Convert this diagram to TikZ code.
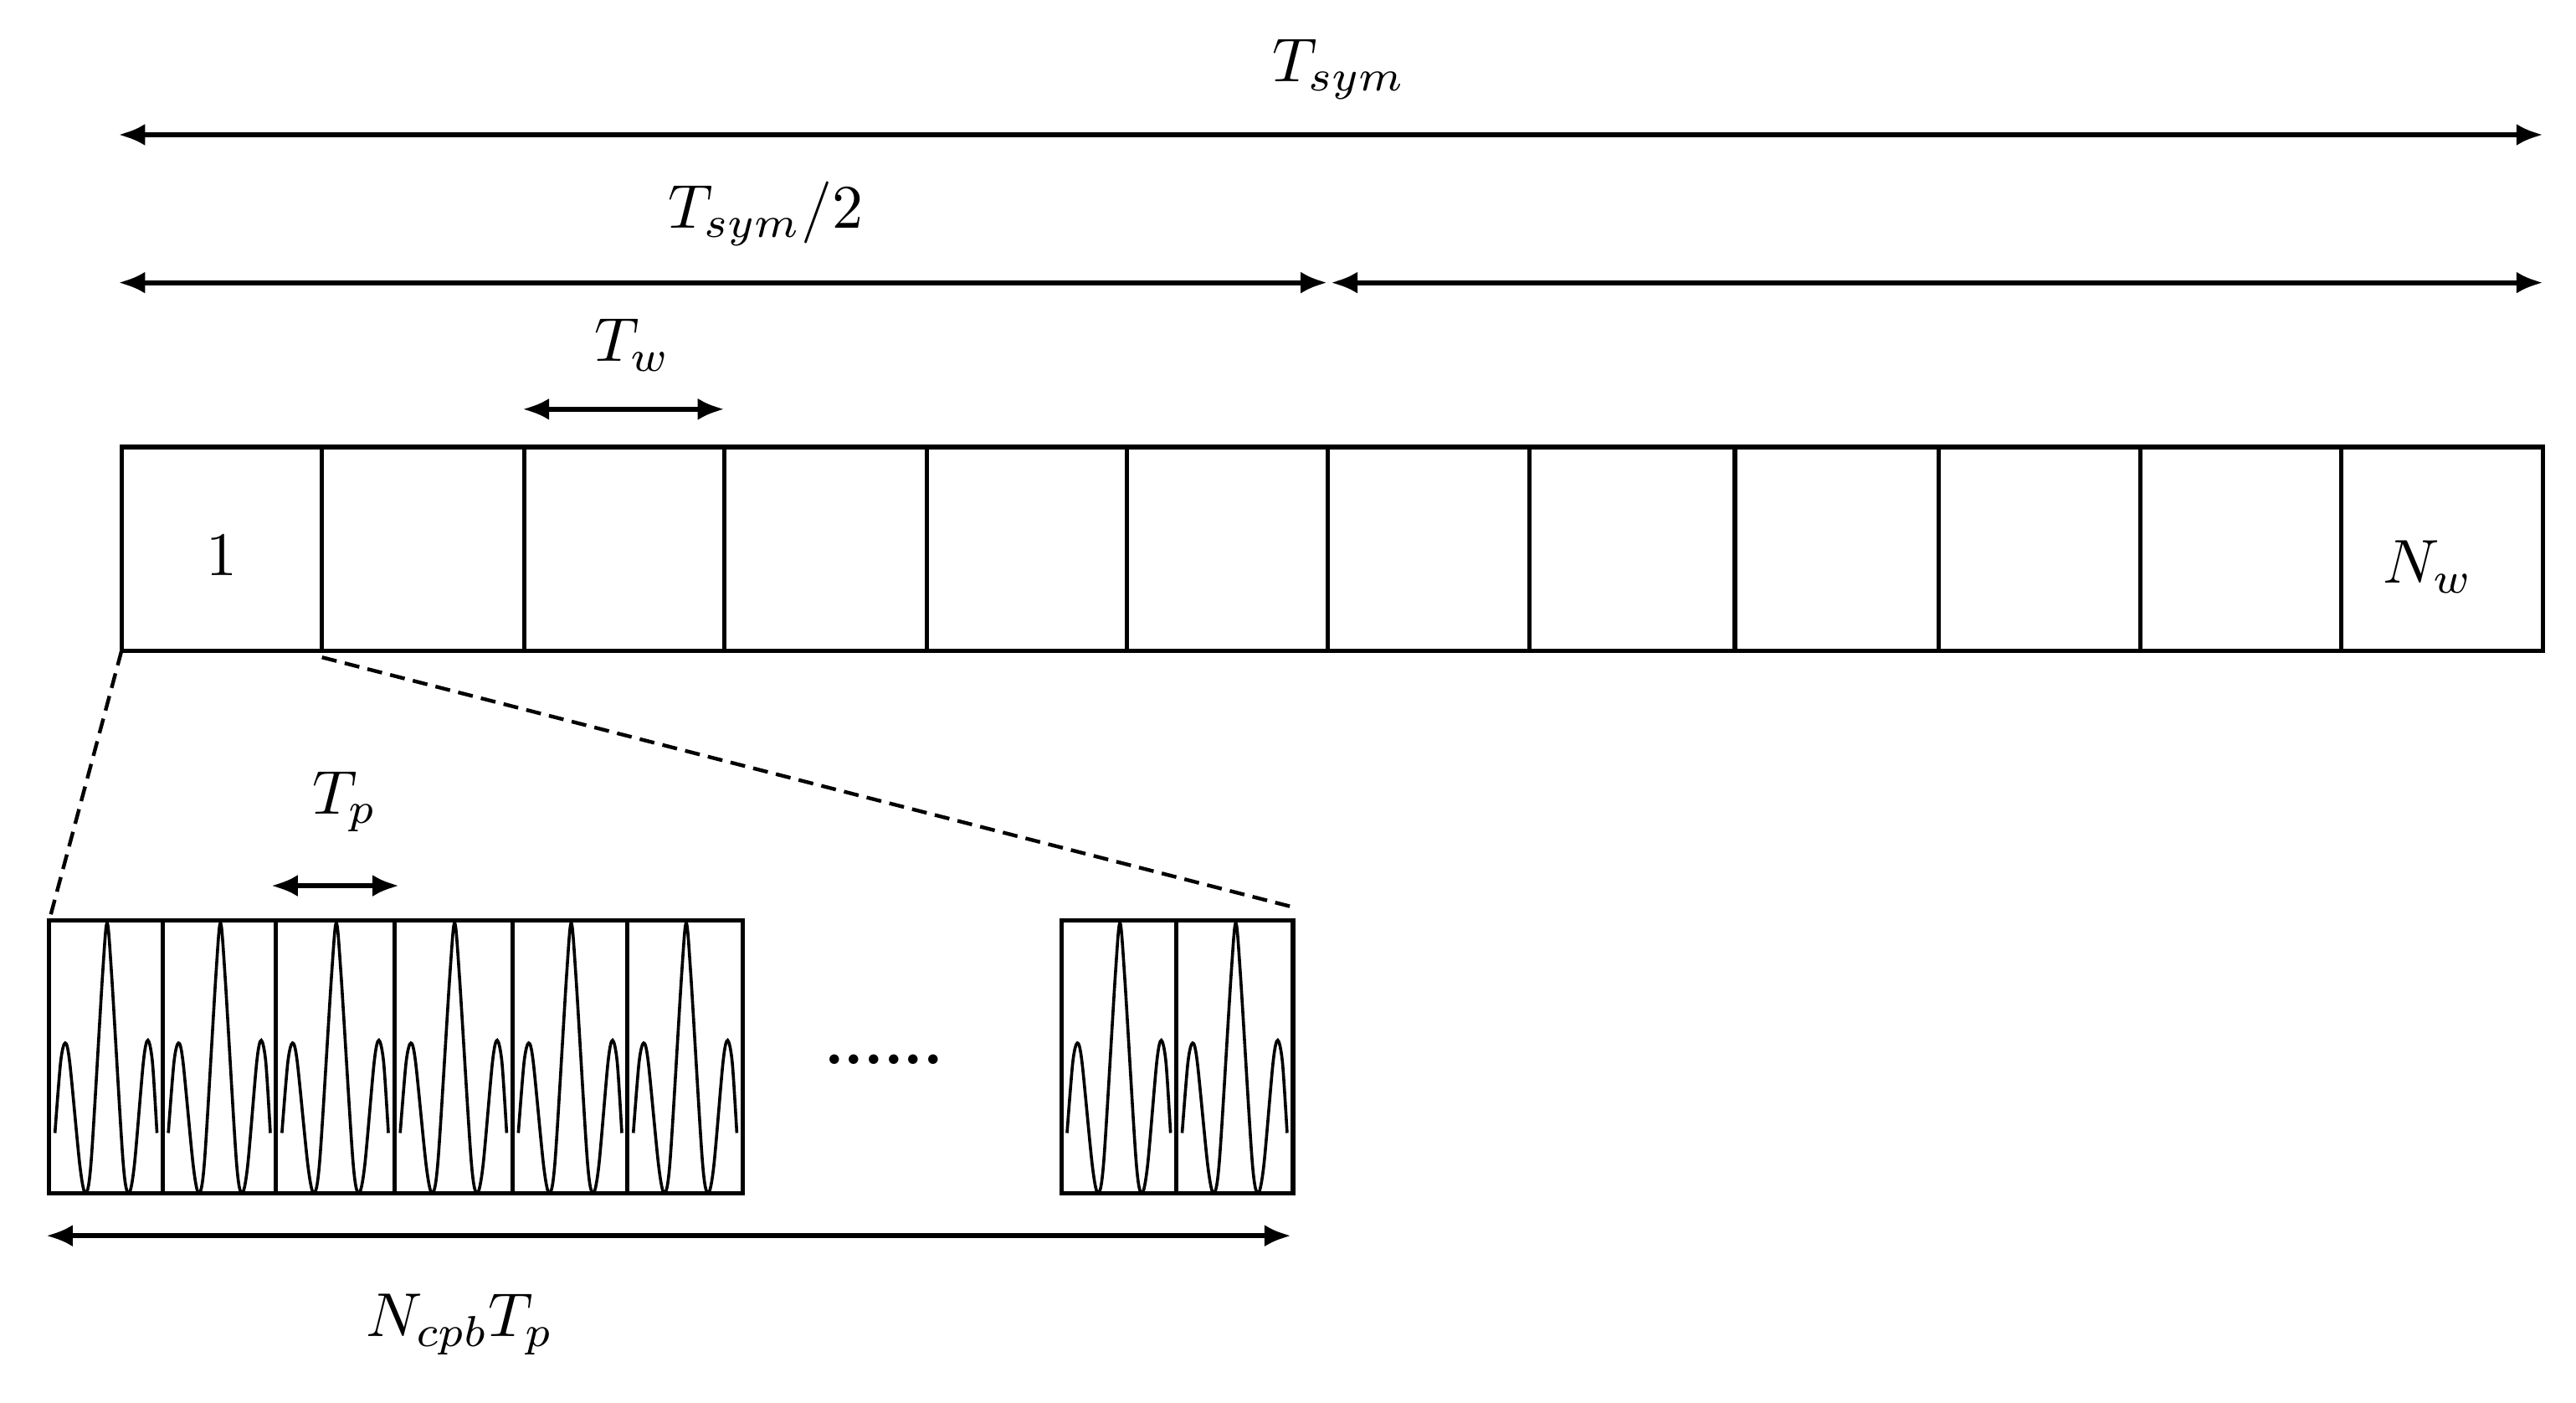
\documentclass[tikz,border=0pt]{standalone}
\usetikzlibrary{arrows.meta}
\begin{document}
\begin{tikzpicture}[x=0.9815pt,y=-0.9815pt,
  dim/.style={line width=3pt,{Latex[length=16pt,width=13pt]}-{Latex[length=16pt,width=13pt]}},
  lbl/.style={font=\normalsize,scale=3.7},
  cell/.style={line width=2.6pt},
  sbox/.style={line width=2.6pt},
  wave/.style={line width=1.8pt}]
\useasboundingbox (0,0) rectangle (1568,853.3);
% T_sym
\coordinate (a1) at (72,82); \coordinate (a2) at (1548,82);
\draw[dim] (a1) -- (a2);
\node[lbl] (tsym) at (815,42) {$T_{sym}$};
% T_sym/2
\coordinate (b1) at (72,172); \coordinate (b2) at (808,172);
\coordinate (b3) at (810,172); \coordinate (b4) at (1548,172);
\draw[dim] (b1) -- (b2);
\draw[dim] (b3) -- (b4);
\node[lbl] (thalf) at (466,130) {$T_{sym}/2$};
% T_w
\coordinate (c1) at (318,249); \coordinate (c2) at (441,249);
\draw[dim] (c1) -- (c2);
\node[lbl] (tw) at (385,210) {$T_w$};
% cells
\foreach \xa/\xb [count=\i] in {74/196,196/319,319/441,441/564,564/686,686/808,808/931,931/1056,1056/1180,1180/1303,1303/1425,1425/1548}
  \draw[cell] (\xa,272) rectangle (\xb,396);
\node[lbl] (one) at (135,338) {$1$};
\node[lbl] (nw) at (1478,345) {$N_w$};
% dashed zoom lines
\coordinate (d1) at (74,396); \coordinate (d2) at (30,560);
\coordinate (d3) at (196,400); \coordinate (d4) at (787,552);
\draw[line width=2.2pt,dash pattern=on 9pt off 5pt] (d1) -- (d2);
\draw[line width=2.2pt,dash pattern=on 9pt off 5pt] (d3) -- (d4);
% small boxes with waveform
\foreach \xa/\xb in {30/99,99/168,168/240,240/312,312/382,382/452,646/716,716/787}{
  \draw[sbox] (\xa,560) rectangle (\xb,726);
  \begin{scope}[shift={(\xa,560)},xscale=(\xb-\xa)/100,yscale=1.66]
  \draw[wave] plot[smooth,tension=0.5] coordinates {(5,78) (10,52) (14,45) (18,52) (27,90) (32,100) (37,88) (47,20) (51,1) (55,20) (65,88) (70,100) (75,90) (83,52) (87,44) (91,52) (95,78)};
  \end{scope}
}
\node[font=\normalsize\bfseries,scale=3.7] (dots) at (538,645) {......};
% T_p
\coordinate (e1) at (165,539); \coordinate (e2) at (243,539);
\draw[dim] (e1) -- (e2);
\node[lbl] (tp) at (210,488) {$T_p$};
% N_cpb T_p
\coordinate (f1) at (28,752); \coordinate (f2) at (786,752);
\draw[dim] (f1) -- (f2);
\node[lbl] (ncpb) at (280,806) {$N_{cpb}T_p$};
\end{tikzpicture}
\end{document}
